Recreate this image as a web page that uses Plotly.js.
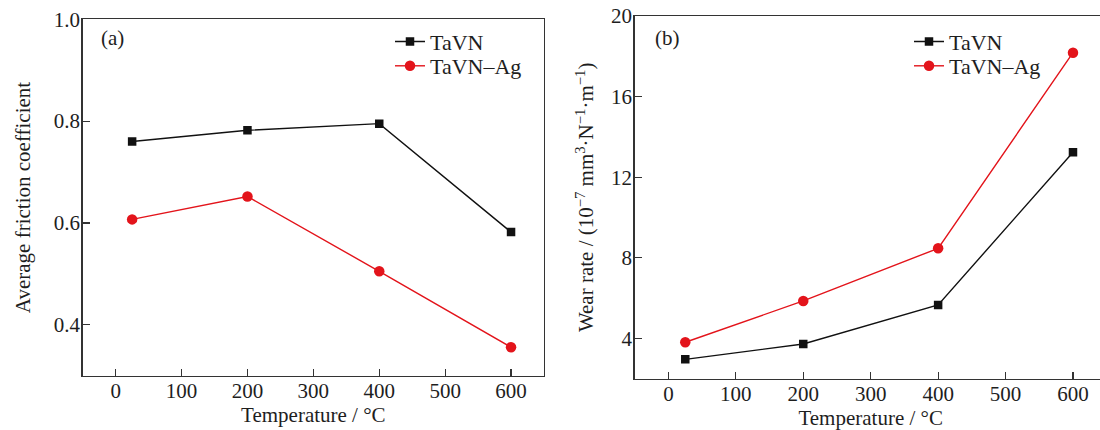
<!DOCTYPE html>
<html>
<head>
<meta charset="utf-8">
<script src="https://cdn.plot.ly/plotly-3.0.1.min.js"></script>
<style>
html, body { margin: 0; padding: 0; overflow: hidden; background: #fff; }
#chart { width: 1110px; height: 430px; }
</style>
</head>
<body>
<div id="chart"></div>
<script>
// ---- data ----
const temperature = [25, 200, 400, 600];
const frictionTaVN = [0.760, 0.782, 0.795, 0.582];
const frictionTaVNAg = [0.607, 0.652, 0.505, 0.356];
const wearTaVN = [2.96, 3.72, 5.66, 13.24];
const wearTaVNAg = [3.81, 5.86, 8.47, 18.18];
const seriesNames = ['TaVN', 'TaVN\u2013Ag'];
const xTicks = [0, 100, 200, 300, 400, 500, 600];
const frictionTicks = [0.4, 0.6, 0.8, 1.0];
const wearTicks = [4, 8, 12, 16, 20];

const W = 1110, H = 430;
const FONT = 'Liberation Serif, Times New Roman, serif';
const AX = '#333333';
const TXT = '#1e1e1e';
const RED = '#e3141b';
const BLK = '#111111';

function px(x) { return x / W; }
function py(y) { return 1 - y / H; }

function trace(x, y, name, xa, ya, leg, color, symbol, size) {
  return { x: x, y: y, name: name, xaxis: xa, yaxis: ya, legend: leg,
    mode: 'lines+markers', line: { color: color, width: 1.4 },
    marker: { symbol: symbol, size: size, color: color } };
}

const traces = [
  trace(temperature, frictionTaVN, seriesNames[0], 'x', 'y', 'legend', BLK, 'square', 8.5),
  trace(temperature, frictionTaVNAg, seriesNames[1], 'x', 'y', 'legend2', RED, 'circle', 10.5),
  trace(temperature, wearTaVN, seriesNames[0], 'x2', 'y2', 'legend3', BLK, 'square', 8.5),
  trace(temperature, wearTaVNAg, seriesNames[1], 'x2', 'y2', 'legend4', RED, 'circle', 10.5)
];

function xAxis(domain, anchor) {
  return {
    domain: domain, anchor: anchor, range: [-50, 650],
    tickmode: 'array', tickvals: xTicks, ticktext: xTicks.map(String),
    ticks: 'inside', ticklen: 7, tickwidth: 1.2, tickcolor: AX,
    showline: true, linecolor: AX, linewidth: 1.4, mirror: true,
    showgrid: false, zeroline: false,
    tickfont: { family: FONT, size: 21, color: TXT },
    ticklabelstandoff: -4,
    title: { text: 'Temperature / \u00b0C', font: { family: FONT, size: 21, color: TXT }, standoff: 4 },
    automargin: false, fixedrange: true
  };
}

function yAxis(domain, anchor, range, ticks, fmt, titleText, standoff) {
  return {
    domain: domain, anchor: anchor, range: range,
    tickmode: 'array', tickvals: ticks, ticktext: ticks.map(v => fmt(v)),
    ticks: 'inside', ticklen: 7, tickwidth: 1.2, tickcolor: AX,
    showline: true, linecolor: AX, linewidth: 1.4, mirror: true,
    showgrid: false, zeroline: false,
    tickfont: { family: FONT, size: 21, color: TXT },
    ticklabelstandoff: -3,
    title: { text: titleText, font: { family: FONT, size: 21, color: TXT }, standoff: standoff },
    automargin: false, fixedrange: true
  };
}

function legendAt(x, y) {
  return {
    font: { family: FONT, size: 22, color: TXT },
    bgcolor: 'rgba(0,0,0,0)', borderwidth: 0,
    xanchor: 'left', yanchor: 'middle', x: px(x), y: py(y),
    itemclick: false, itemdoubleclick: false
  };
}

const layout = {
  width: W, height: H,
  margin: { l: 0, r: 0, t: 0, b: 0 },
  paper_bgcolor: '#fff', plot_bgcolor: '#fff',
  showlegend: true,
  xaxis: xAxis([px(82.7), px(544)], 'y'),
  yaxis: yAxis([py(375.7), py(19.3)], 'x', [0.3, 1.0], frictionTicks, v => v.toFixed(1),
    'Average friction coefficient', 17),
  xaxis2: xAxis([px(634.7), px(1106.7)], 'y2'),
  yaxis2: yAxis([py(378.7), py(16)], 'x2', [2, 20], wearTicks, v => String(v),
    'Wear rate / (10<sup>\u22127</sup> mm<sup>3</sup>\u00b7N<sup>\u22121</sup>\u00b7m<sup>\u22121</sup>)', 11),
  legend: legendAt(390, 41.7),
  legend2: legendAt(390, 66),
  legend3: legendAt(909, 41.7),
  legend4: legendAt(909, 66),
  annotations: [
    { text: '(a)', xref: 'paper', yref: 'paper', x: px(112), y: py(38.5), showarrow: false,
      font: { family: FONT, size: 21, color: TXT }, xanchor: 'center', yanchor: 'middle' },
    { text: '(b)', xref: 'paper', yref: 'paper', x: px(667), y: py(38.5), showarrow: false,
      font: { family: FONT, size: 21, color: TXT }, xanchor: 'center', yanchor: 'middle' }
  ]
};

Plotly.newPlot('chart', traces, layout, { staticPlot: true, displayModeBar: false });
</script>
</body>
</html>
